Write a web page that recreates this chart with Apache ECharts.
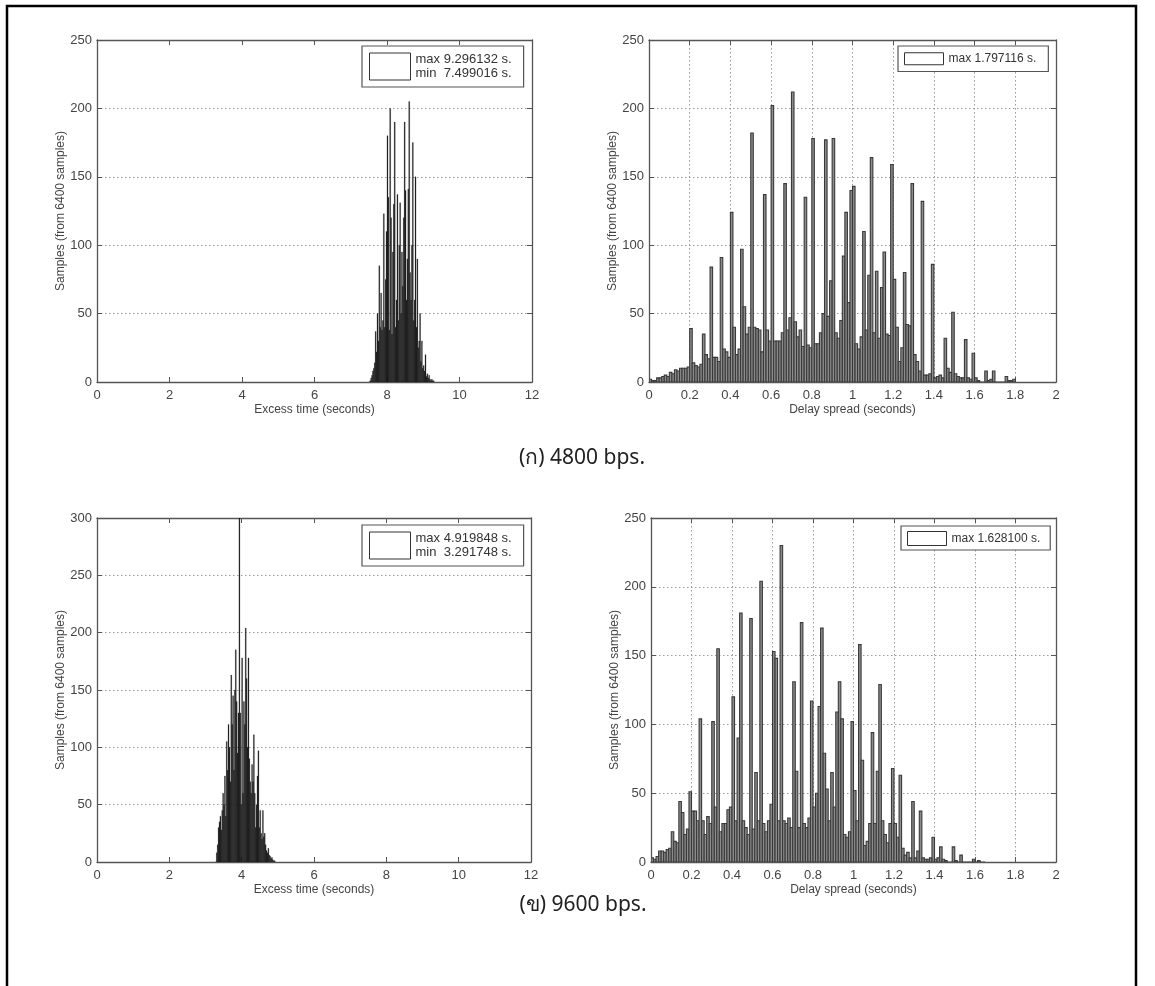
<!DOCTYPE html>
<html>
<head>
<meta charset="utf-8">
<script src="https://cdn.jsdelivr.net/npm/echarts@6.0.0/dist/echarts.min.js"></script>
<style>
  html, body { margin: 0; padding: 0; background: #fff; }
  #chart { width: 1155px; height: 986px; }
</style>
</head>
<body>
<div id="chart"></div>
<script>
// histogram counts (bin starts = start + i * binWidth)
const excess4800Start = 7.5;
const excess4800Bin = 0.025;
const excess4800Counts = [
  0, 1, 3, 5, 8, 10, 14, 37, 22, 50,
  30, 85, 40, 65, 38, 45, 123, 40, 75, 110,
  180, 135, 38, 200, 120, 35, 95, 130, 190, 40,
  60, 137, 45, 100, 131, 50, 95, 70, 120, 190,
  140, 60, 90, 141, 205, 80, 60, 100, 175, 45,
  60, 150, 40, 90, 25, 30, 50, 15, 30, 10,
  12, 8, 20, 4, 6, 3, 5, 2, 1, 2,
  1, 1
];

const delay4800Start = 0;
const delay4800Bin = 0.0125;
const delay4800Counts = [
  2, 1, 1, 3, 3, 4, 5, 4, 7, 6, 9, 8, 10, 10, 10, 11,
  39, 14, 12, 11, 13, 35, 20, 17, 84, 18, 18, 15, 91, 24, 22, 18,
  124, 40, 20, 24, 97, 55, 35, 40, 182, 40, 39, 38, 22, 137, 38, 30,
  202, 30, 30, 30, 36, 145, 38, 47, 212, 44, 33, 38, 26, 135, 27, 25,
  178, 28, 28, 36, 50, 177, 48, 74, 178, 36, 32, 45, 92, 124, 58, 140,
  143, 28, 24, 33, 110, 38, 78, 164, 36, 81, 32, 69, 95, 35, 34, 159,
  75, 40, 15, 25, 80, 42, 41, 145, 20, 15, 8, 132, 5, 5, 6, 86,
  3, 4, 5, 3, 32, 10, 7, 51, 6, 4, 3, 3, 31, 3, 2, 21,
  3, 1, 0, 0, 8, 1, 2, 8, 0, 0, 0, 0, 4, 1, 1, 2
];

const excess9600Start = 3.275;
const excess9600Bin = 0.025;
const excess9600Counts = [
  0, 8, 15, 30, 35, 40, 28, 45, 60, 50,
  75, 40, 105, 80, 120, 100, 70, 163, 120, 145,
  80, 150, 185, 140, 95, 130, 300, 130, 50, 178,
  60, 140, 120, 204, 160, 100, 178, 90, 70, 60,
  85, 70, 111, 60, 30, 50, 75, 97, 30, 45,
  25, 20, 45, 22, 25, 15, 10, 8, 12, 6,
  5, 3, 4, 2, 1, 1
];

const delay9600Start = 0;
const delay9600Bin = 0.0125;
const delay9600Counts = [
  3, 2, 4, 8, 8, 7, 9, 10, 22, 15, 14, 44, 36, 20, 24, 51,
  37, 37, 30, 104, 30, 20, 33, 28, 102, 40, 155, 22, 28, 28, 38, 40,
  120, 30, 90, 181, 30, 25, 20, 177, 24, 65, 30, 204, 28, 22, 30, 42,
  153, 148, 30, 230, 30, 28, 32, 25, 131, 66, 25, 174, 28, 25, 32, 117,
  40, 50, 113, 170, 79, 53, 30, 65, 40, 109, 131, 104, 20, 18, 22, 102,
  52, 30, 158, 74, 12, 15, 28, 94, 28, 66, 129, 30, 20, 14, 28, 68,
  28, 18, 63, 10, 5, 7, 3, 44, 3, 8, 37, 3, 2, 2, 3, 18,
  2, 3, 11, 2, 1, 0, 0, 11, 1, 0, 5, 0, 0, 0, 0, 2,
  0, 1, 0, 0
];

const legend4800Excess = ['max 9.296132 s.', 'min  7.499016 s.'];
const legend4800Delay = ['max 1.797116 s.'];
const legend9600Excess = ['max 4.919848 s.', 'min  3.291748 s.'];
const legend9600Delay = ['max 1.628100 s.'];

const captions = ['(ก) 4800 bps.', '(ข) 9600 bps.'];
const excessAxisName = 'Excess time (seconds)';
const delayAxisName = 'Delay spread (seconds)';
const samplesAxisName = 'Samples (from 6400 samples)';

const FONT = 'Liberation Sans, Arial, sans-serif';
const AXIS_COLOR = '#555';

const grids = [
  { left: 97, top: 40, width: 435, height: 342 },
  { left: 649, top: 40, width: 407, height: 342 },
  { left: 97, top: 518, width: 434, height: 344 },
  { left: 651, top: 518, width: 405, height: 344 }
];

function boxAxes(dim, gridIndex, max, interval, name, nameGap, showGrid) {
  const isX = dim === 'x';
  const common = {
    type: 'value',
    gridIndex,
    min: 0,
    max,
    interval,
    axisLine: { show: true, onZero: false, lineStyle: { color: AXIS_COLOR, width: 1.3 } },
    axisTick: { show: true, inside: true, length: 5, lineStyle: { color: AXIS_COLOR } }
  };
  return [
    Object.assign({}, common, {
      position: isX ? 'bottom' : 'left',
      name,
      nameLocation: 'middle',
      nameGap,
      nameTextStyle: { fontFamily: FONT, fontSize: 12, color: '#444' },
      axisLabel: { margin: isX ? 7 : 5, fontFamily: FONT, fontSize: 13, color: '#444' },
      splitLine: { show: showGrid, lineStyle: { color: '#999', type: [1.5, 2.5], width: 1 } }
    }),
    Object.assign({}, common, {
      position: isX ? 'top' : 'right',
      axisLabel: { show: false },
      splitLine: { show: false }
    })
  ];
}

const xAxes = [].concat(
  boxAxes('x', 0, 12, 2, excessAxisName, 22, false),
  boxAxes('x', 1, 2, 0.2, delayAxisName, 22, true),
  boxAxes('x', 2, 12, 2, excessAxisName, 22, false),
  boxAxes('x', 3, 2, 0.2, delayAxisName, 22, true)
);
const yAxes = [].concat(
  boxAxes('y', 0, 250, 50, samplesAxisName, 30, true),
  boxAxes('y', 1, 250, 50, samplesAxisName, 27, true),
  boxAxes('y', 2, 300, 50, samplesAxisName, 30, true),
  boxAxes('y', 3, 250, 50, samplesAxisName, 28, true)
);

function histSeries(name, counts, start, width, axisIndex, style) {
  return {
    type: 'custom',
    name,
    xAxisIndex: axisIndex,
    yAxisIndex: axisIndex,
    clip: true,
    data: counts.map((c, i) => [start + i * width, c]),
    renderItem(params, api) {
      const top = api.coord([api.value(0), api.value(1)]);
      const base = api.coord([api.value(0) + width, 0]);
      return {
        type: 'rect',
        shape: { x: top[0], y: top[1], width: base[0] - top[0], height: base[1] - top[1] },
        style
      };
    }
  };
}

const excessStyle = { fill: '#000', stroke: '#333', lineWidth: 0.3 };
const delayStyle = { fill: '#8c8c8c', stroke: '#3a3a3a', lineWidth: 1.1 };

function boxLegend(name, lines, left, top, iw, ih, fontSize, padding) {
  return {
    data: [{ name, icon: 'rect', itemStyle: { color: '#fff', borderColor: '#333', borderWidth: 1 } }],
    left,
    top,
    orient: 'vertical',
    itemWidth: iw,
    itemHeight: ih,
    padding,
    borderColor: '#555',
    borderWidth: 1.2,
    backgroundColor: '#fff',
    selectedMode: false,
    formatter: () => lines.join('\n'),
    textStyle: { fontFamily: FONT, fontSize, lineHeight: fontSize + 1.5, color: '#333' }
  };
}

const chart = echarts.init(document.getElementById('chart'), null, { renderer: 'canvas' });

chart.setOption({
  backgroundColor: '#fff',
  animation: false,
  grid: grids,
  xAxis: xAxes,
  yAxis: yAxes,
  legend: [
    boxLegend('excess4800', legend4800Excess, 362, 46, 41, 27, 13, [6, 12, 6, 7]),
    boxLegend('delay4800', legend4800Delay, 898, 46, 39, 12, 12, [6, 12, 6, 6]),
    boxLegend('excess9600', legend9600Excess, 362, 525, 41, 27, 13, [6, 12, 6, 7]),
    boxLegend('delay9600', legend9600Delay, 901, 526, 39, 14, 12, [5, 10, 4, 6])
  ],
  series: [
    histSeries('excess4800', excess4800Counts, excess4800Start, excess4800Bin, 0, excessStyle),
    histSeries('delay4800', delay4800Counts, delay4800Start, delay4800Bin, 2, delayStyle),
    histSeries('excess9600', excess9600Counts, excess9600Start, excess9600Bin, 4, excessStyle),
    histSeries('delay9600', delay9600Counts, delay9600Start, delay9600Bin, 6, delayStyle)
  ],
  graphic: [
    {
      type: 'rect',
      silent: true,
      shape: { x: 7, y: 6, width: 1129, height: 1000 },
      style: { fill: 'none', stroke: '#000', lineWidth: 2.5 }
    },
    {
      type: 'text',
      x: 582,
      y: 458,
      style: { text: captions[0], fontSize: 21, fontFamily: 'Noto Sans, DejaVu Sans, sans-serif', fill: '#222', align: 'center', verticalAlign: 'middle' }
    },
    {
      type: 'text',
      x: 583,
      y: 905,
      style: { text: captions[1], fontSize: 21, fontFamily: 'Noto Sans, DejaVu Sans, sans-serif', fill: '#222', align: 'center', verticalAlign: 'middle' }
    }
  ]
});
</script>
</body>
</html>
